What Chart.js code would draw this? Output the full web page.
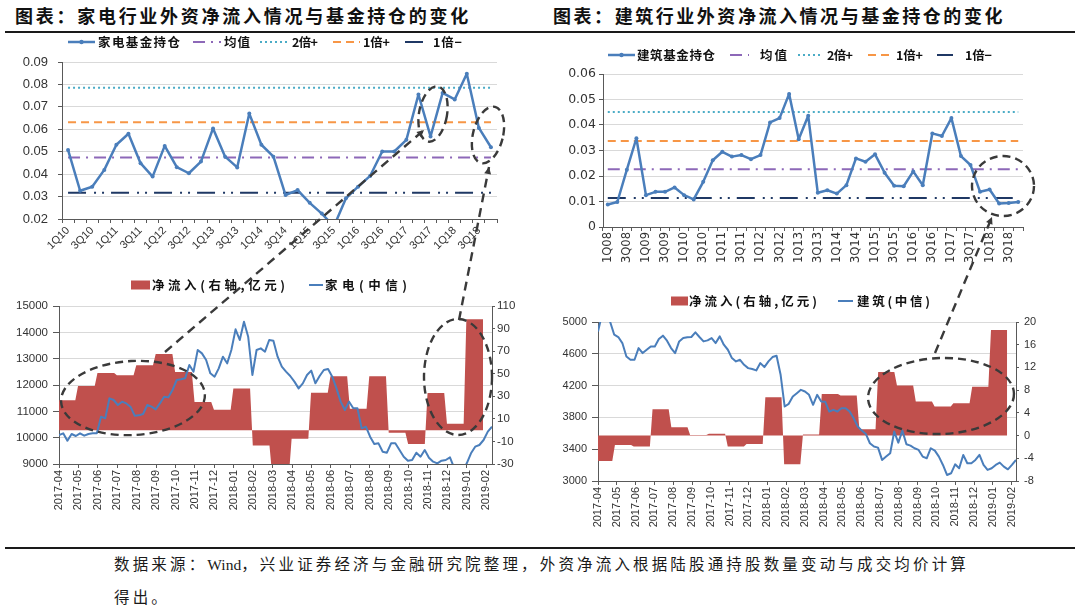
<!DOCTYPE html>
<html>
<head>
<meta charset="utf-8">
<script src="https://cdn.jsdelivr.net/npm/chart.js@4.4.1/dist/chart.umd.min.js"></script>
<style>
  html, body { margin: 0; padding: 0; background: #fff; }
  #page { position: relative; width: 1080px; height: 611px; overflow: hidden; }
  canvas { position: absolute; }
  .title { position: absolute; top: 5px; font: bold 18px "Noto Sans CJK SC", sans-serif; color: #111; white-space: nowrap; line-height: 20px; }
  .rule { position: absolute; left: 5px; width: 1070px; height: 2px; background: #1a1a1a; }
  .foot { position: absolute; left: 114px; font: 15.5px "Liberation Serif", "Noto Sans CJK SC", serif; color: #1a1a1a; white-space: nowrap; line-height: 18px; }
  .lat { letter-spacing: 0; }
  svg { position: absolute; left: 0; top: 0; pointer-events: none; }
</style>
</head>
<body>
<div id="page">
  <div class="title" id="t1" style="left:15px">图表：家电行业外资净流入情况与基金持仓的变化</div>
  <div class="title" id="t2" style="left:553px">图表：建筑行业外资净流入情况与基金持仓的变化</div>
  <div class="rule" style="top:31px"></div>

  <canvas id="c1" width="540" height="236" style="left:0;top:34px"></canvas>
  <canvas id="c2" width="540" height="236" style="left:540px;top:34px"></canvas>
  <canvas id="c3" width="540" height="270" style="left:0;top:270px"></canvas>
  <canvas id="c4" width="540" height="270" style="left:540px;top:270px"></canvas>

  <div class="rule" style="top:547px"></div>
  <div class="foot" id="f1" style="top:556px">数据来源：<span class="lat">Wind</span>，兴业证券经济与金融研究院整理，外资净流入根据陆股通持股数量变动与成交均价计算</div>
  <div class="foot" id="f2" style="top:589px">得出。</div>

  <svg id="marks" width="1080" height="611"></svg>
</div>

<script>
/* ── Data ──────────────────────────────────────────────── */

// Top-left: 家电基金持仓, quarterly
const jdQuarters = [
  "1Q10","2Q10","3Q10","4Q10","1Q11","2Q11","3Q11","4Q11","1Q12","2Q12","3Q12","4Q12",
  "1Q13","2Q13","3Q13","4Q13","1Q14","2Q14","3Q14","4Q14","1Q15","2Q15","3Q15","4Q15",
  "1Q16","2Q16","3Q16","4Q16","1Q17","2Q17","3Q17","4Q17","1Q18","2Q18","3Q18","4Q18",
];
const jdHold = [
  0.0508, 0.0326, 0.0344, 0.0419, 0.0531, 0.0580, 0.0449, 0.0389, 0.0526, 0.0431, 0.0404, 0.0456,
  0.0604, 0.0478, 0.0430, 0.0670, 0.0531, 0.0478, 0.0307, 0.0329, 0.0272, 0.0224, 0.0167, 0.0292,
  0.0344, 0.0392, 0.0501, 0.0501, 0.0553, 0.0755, 0.0568, 0.0762, 0.0733, 0.0848, 0.0606, 0.0520,
];
const jdRefs = [0.0474, 0.0785, 0.0631, 0.0317];   // 均值, 2倍+, 1倍+, 1倍−

// Top-right: 建筑基金持仓, quarterly
const jzQuarters = [
  "1Q08","2Q08","3Q08","4Q08","1Q09","2Q09","3Q09","4Q09","1Q10","2Q10","3Q10","4Q10",
  "1Q11","2Q11","3Q11","4Q11","1Q12","2Q12","3Q12","4Q12","1Q13","2Q13","3Q13","4Q13",
  "1Q14","2Q14","3Q14","4Q14","1Q15","2Q15","3Q15","4Q15","1Q16","2Q16","3Q16","4Q16",
  "1Q17","2Q17","3Q17","4Q17","1Q18","2Q18","3Q18","4Q18",
];
const jzHold = [
  0.0088, 0.0098, 0.0225, 0.0348, 0.0125, 0.0138, 0.0138, 0.0155, 0.0125, 0.0108, 0.0177, 0.0262,
  0.0295, 0.0276, 0.0282, 0.0266, 0.0282, 0.0410, 0.0427, 0.0522, 0.0344, 0.0436, 0.0134, 0.0144,
  0.0131, 0.0164, 0.0269, 0.0256, 0.0285, 0.0213, 0.0162, 0.0160, 0.0218, 0.0164, 0.0367, 0.0357,
  0.0427, 0.0278, 0.0243, 0.0138, 0.0147, 0.0092, 0.0094, 0.0098,
];
const jzRefs = [0.0226, 0.0451, 0.0337, 0.0114];

// Bottom charts: month ticks, monthly net inflow (亿元), weekly index level
const monthLabels = [
  "2017-04","2017-05","2017-06","2017-07","2017-08","2017-09","2017-10","2017-11","2017-12",
  "2018-01","2018-02","2018-03","2018-04","2018-05","2018-06","2018-07","2018-08","2018-09",
  "2018-10","2018-11","2018-12","2019-01","2019-02",
];
const jdFlow = [26.4, 39.2, 50.7, 48.7, 57.6, 67.4, 51.6, 24.9, 18.1, 36.8, -13.5, -40,
                -7.7, 33.2, 47.8, 19.0, 47.8, -2.4, -12.2, 33.0, 5.6, 98.2];
const jzFlow = [-4.47, -1.65, -1.94, 4.65, 1.47, 0.12, 0.30, -1.94, -1.47, 6.76, -5.06, 0.2,
                7.3, 7.06, 1.1, 11.2, 8.8, 6.0, 5.1, 5.7, 8.6, 18.6];

const jdIndex = [
  10101, 10165, 9886, 10139, 10063, 10165, 10076, 10139, 10165, 10165,
  10797, 10734, 11494, 11430, 11240, 11367, 11300, 11177, 10835, 10848,
  10900, 11240, 11177, 11076, 11300, 11557, 11530, 11810, 12190, 12215,
  12253, 12760, 12506, 13330, 13200, 12950, 12443, 12316, 12633, 13076,
  12823, 13330, 14114, 13709, 14405, 13835, 12380, 13330, 13392, 13266,
  13709, 13684, 13076, 12696, 12506, 12341, 12127, 11873, 12063, 12380,
  12544, 12063, 12341, 12570, 12608, 12316, 11873, 11367, 11050, 11367,
  11114, 11114, 10354, 10418, 10038, 9759, 9785, 9468, 9430, 9785,
  9785, 9532, 9278, 9127, 9152, 9430, 9278, 9532, 9240, 9088,
  9025, 9127, 9152, 9253, 8850, 8700, 8750, 9025, 9405, 9658,
  9722, 9911, 10228, 10418,
];
const jzIndex = [
  4880, 5100, 5120, 5000, 4840, 4811, 4735, 4567, 4525, 4525,
  4672, 4609, 4651, 4693, 4693, 4786, 4828, 4765, 4672, 4609,
  4756, 4798, 4807, 4811, 4870, 4811, 4756, 4769, 4798, 4735,
  4819, 4714, 4651, 4546, 4504, 4525, 4462, 4420, 4408, 4391,
  4483, 4433, 4504, 4559, 4575, 4336, 3937, 3971, 4063, 4105,
  4147, 4126, 4084, 3958, 4084, 4000, 3996, 3874, 3895, 3874,
  3916, 3916, 3874, 3790, 3685, 3634, 3592, 3475, 3433, 3420,
  3265, 3307, 3349, 3622, 3483, 3634, 3462, 3445, 3412, 3391,
  3307, 3286, 3412, 3382, 3307, 3202, 3076, 3097, 3210, 3160,
  3328, 3223, 3223, 3265, 3328, 3202, 3139, 3160, 3202, 3231,
  3181, 3147, 3202, 3265,
];

/* ── Styles ────────────────────────────────────────────── */

const BLUE = "#4a7ebb", PURPLE = "#8d68b8", CYAN = "#4bacc6", ORANGE = "#f79646", NAVY = "#1f3864";
const RED = "#c0504d", AXIS = "#595959", GRID = "#d9d9d9", TXT = "#333";
const LEG_FONT = 'bold 12.5px "Noto Sans CJK SC", sans-serif';

Chart.defaults.font.family = '"Liberation Sans", Arial, sans-serif';
Chart.defaults.color = TXT;

/* ── Helpers ───────────────────────────────────────────── */

// Draw text with its letters spread so it spans `target` px
function drawFitted(ctx, text, x, y, target) {
  const chars = [...text];
  const widths = chars.map((c) => ctx.measureText(c).width);
  const total = widths.reduce((a, b) => a + b, 0);
  const gap = chars.length > 1 ? Math.max(-1, (target - total) / (chars.length - 1)) : 0;
  let cx = x;
  chars.forEach((c, i) => { ctx.fillText(c, cx, y); cx += widths[i] + gap; });
}

// Hand-placed legend, styles taken from the datasets
const legendPlugin = {
  id: "customLegend",
  afterDraw(chart, args, opts) {
    const ctx = chart.ctx;
    ctx.save();
    ctx.font = LEG_FONT;
    ctx.textBaseline = "middle";
    for (const it of opts.items) {
      const ds = chart.data.datasets[it.ds];
      const y = opts.y;
      if (it.box) {
        ctx.fillStyle = ds.backgroundColor;
        ctx.fillRect(it.x, y - 4.5, it.w, 9);
      } else {
        ctx.strokeStyle = ds.borderColor;
        ctx.lineWidth = Math.min(ds.borderWidth, 2.5);
        ctx.setLineDash(ds.borderDash || []);
        ctx.beginPath();
        ctx.moveTo(it.x, y);
        ctx.lineTo(it.x + it.w, y);
        ctx.stroke();
        ctx.setLineDash([]);
        if (it.marker) {
          ctx.fillStyle = ds.borderColor;
          ctx.beginPath();
          ctx.arc(it.x + it.w / 2, y, 2.2, 0, Math.PI * 2);
          ctx.fill();
        }
      }
      ctx.fillStyle = "#111";
      drawFitted(ctx, ds.label, it.tx, y + 0.5, it.tw);
    }
    ctx.restore();
  },
};

function refSet(label, value, n, color, dash, width) {
  return {
    label, data: new Array(n).fill(value), borderColor: color, backgroundColor: color,
    borderDash: dash, borderWidth: width, pointRadius: 0, order: 1,
  };
}

// Monthly flows as flat steps on the month axis, short slope between months
function stepPoints(vals, shift, slant) {
  const pts = [];
  vals.forEach((v, m) => {
    pts.push({ x: Math.max(0, m + shift), y: v });
    pts.push({ x: m + 1 + shift - slant, y: v });
  });
  return pts;
}

// Weekly readings spread evenly over the axis span
function weekPoints(vals, xMax) {
  return vals.map((v, i) => ({ x: (i * xMax) / (vals.length - 1), y: v }));
}

function topChart(id, o) {
  const n = o.labels.length;
  return new Chart(document.getElementById(id), {
    type: "line",
    data: {
      labels: o.labels,
      datasets: [
        { label: o.name, data: o.hold, borderColor: BLUE, backgroundColor: BLUE, borderWidth: 2.5,
          pointRadius: 2, pointBorderWidth: 0, borderJoinStyle: "round", order: 0 },
        refSet("均值", o.refs[0], n, PURPLE, [12, 6, 2, 6], 2),
        refSet("2倍+", o.refs[1], n, CYAN, [2, 3], 2),
        refSet("1倍+", o.refs[2], n, ORANGE, [8, 5], 2),
        refSet("1倍−", o.refs[3], n, NAVY, [18, 8, 2, 6, 2, 7], 2),
      ],
    },
    options: {
      responsive: false, animation: false, devicePixelRatio: 1,
      layout: { padding: o.pad },
      plugins: {
        legend: { display: false }, tooltip: { enabled: false },
        customLegend: o.legend,
      },
      scales: {
        x: {
          offset: true,
          grid: { offset: true, drawOnChartArea: false, color: AXIS, tickLength: 4 },
          border: { color: AXIS },
          ticks: {
            autoSkip: false, minRotation: o.rot, maxRotation: o.rot, padding: 1,
            font: o.xFont, color: TXT,
            callback: (v, i) => (i % 2 === 0 ? o.labels[i] : ""),
          },
          afterFit: (s) => { s.height = o.xH; },
        },
        y: {
          min: o.min, max: o.max,
          ticks: { stepSize: 0.01, font: o.yFont, color: TXT, padding: o.yPad,
                   callback: (v) => (v === 0 ? "0" : v.toFixed(2)) },
          grid: { color: GRID, tickColor: AXIS, tickLength: 4 },
          border: { color: AXIS },
          afterFit: (s) => { s.width = o.yW; },
        },
      },
    },
    plugins: [legendPlugin],
  });
}

function bottomChart(id, o) {
  return new Chart(document.getElementById(id), {
    type: "line",
    data: {
      datasets: [
        { label: "净流入(右轴,亿元)", data: stepPoints(o.flow, o.shift, 0.14), yAxisID: "y1",
          fill: { value: 0 }, backgroundColor: RED, borderColor: RED, borderWidth: 0,
          pointRadius: 0, order: 1 },
        { label: o.name, data: weekPoints(o.index, o.xMax), yAxisID: "y",
          borderColor: BLUE, backgroundColor: BLUE, borderWidth: 2, pointRadius: 0,
          borderJoinStyle: "round", order: 0 },
      ],
    },
    options: {
      responsive: false, animation: false, devicePixelRatio: 1,
      layout: { padding: o.pad },
      plugins: {
        legend: { display: false }, tooltip: { enabled: false },
        customLegend: o.legend,
      },
      scales: {
        x: {
          type: "linear", min: 0, max: o.xMax,
          afterBuildTicks: (s) => { s.ticks = monthLabels.map((_, i) => ({ value: i })); },
          ticks: { autoSkip: false, minRotation: 90, maxRotation: 90, padding: 2,
                   font: { size: 11 }, color: TXT,
                   callback: (v) => monthLabels[Math.round(v)] },
          grid: { drawOnChartArea: false, color: AXIS, tickLength: 4 },
          border: { color: AXIS },
          afterFit: (s) => { s.height = o.xH; },
        },
        y: {
          position: "left", min: o.yMin, max: o.yMax,
          ticks: { stepSize: o.yStep, font: { size: o.yFs }, color: TXT, padding: 5,
                   callback: (v) => String(v) },
          grid: { color: GRID, tickColor: AXIS, tickLength: 6 },
          border: { color: AXIS },
          afterFit: (s) => { s.width = o.yW; },
        },
        y1: {
          position: "right", min: o.rMin, max: o.rMax,
          ticks: { stepSize: o.rStep, font: { size: o.yFs }, color: TXT, padding: o.rPad,
                   callback: (v) => String(v) },
          grid: { drawOnChartArea: false, color: AXIS, tickLength: 3 },
          border: { color: AXIS },
          afterFit: (s) => { s.width = o.rW; },
        },
      },
    },
    plugins: [legendPlugin],
  });
}

/* ── Charts ────────────────────────────────────────────── */

topChart("c1", {
  name: "家电基金持仓", labels: jdQuarters, hold: jdHold, refs: jdRefs,
  min: 0.02, max: 0.09, rot: 45, xH: 51, yW: 62, yPad: 10,
  xFont: { size: 11 }, yFont: { size: 13 },
  pad: { left: 0, right: 43, top: 28, bottom: 0 },
  legend: { y: 8, items: [
    { ds: 0, x: 68, w: 27, marker: true, tx: 98, tw: 82 },
    { ds: 1, x: 193, w: 28, tx: 224, tw: 26 },
    { ds: 2, x: 260, w: 28, tx: 292, tw: 26 },
    { ds: 3, x: 333, w: 27, tx: 363, tw: 27 },
    { ds: 4, x: 405, w: 19, tx: 433, tw: 29 },
  ] },
});

topChart("c2", {
  name: "建筑基金持仓", labels: jzQuarters, hold: jzHold, refs: jzRefs,
  min: 0, max: 0.06, rot: 90, xH: 43, yW: 63, yPad: 3,
  xFont: { size: 11.5, family: '"DejaVu Sans", sans-serif' },
  yFont: { size: 12.5, family: '"DejaVu Sans", sans-serif' },
  pad: { left: 0, right: 57, top: 40, bottom: 0 },
  legend: { y: 21, items: [
    { ds: 0, x: 68, w: 27, marker: true, tx: 97, tw: 78 },
    { ds: 1, x: 190, w: 19, tx: 220, tw: 27 },
    { ds: 2, x: 258, w: 22, tx: 287, tw: 26 },
    { ds: 3, x: 328, w: 24, tx: 356, tw: 27 },
    { ds: 4, x: 397, w: 16, tx: 425, tw: 27 },
  ] },
});

bottomChart("c3", {
  name: "家电(中信)", flow: jdFlow, index: jdIndex, shift: -0.02, xMax: 22.3,
  yMin: 9000, yMax: 15000, yStep: 1000, rMin: -30, rMax: 110, rStep: 20,
  yFs: 11.5, yW: 59, rW: 48, rPad: 2, xH: 76,
  pad: { left: 0, right: 0, top: 36, bottom: 0 },
  legend: { y: 15, items: [
    { ds: 0, box: true, x: 131, w: 19, tx: 152, tw: 133 },
    { ds: 1, x: 309, w: 14, tx: 325, tw: 82 },
  ] },
});

bottomChart("c4", {
  name: "建筑(中信)", flow: jzFlow, index: jzIndex, shift: -0.1, xMax: 22.23,
  yMin: 3000, yMax: 5000, yStep: 400, rMin: -8, rMax: 20, rStep: 4,
  yFs: 11, yW: 58, rW: 64, rPad: 5, xH: 59,
  pad: { left: 0, right: 0, top: 52, bottom: 0 },
  legend: { y: 31, items: [
    { ds: 0, box: true, x: 131, w: 17, tx: 149, tw: 128 },
    { ds: 1, x: 298, w: 15, tx: 317, tw: 73 },
  ] },
});

/* ── Callout ellipses and arrows ───────────────────────── */

const NS = "http://www.w3.org/2000/svg";
const svg = document.getElementById("marks");
const MARK = "#3a3a3a";

function el(tag, attrs) {
  const e = document.createElementNS(NS, tag);
  for (const k in attrs) e.setAttribute(k, attrs[k]);
  svg.appendChild(e);
  return e;
}
function ellipse(cx, cy, rx, ry, rot) {
  el("ellipse", { cx, cy, rx, ry, transform: `rotate(${rot} ${cx} ${cy})`,
    fill: "none", stroke: MARK, "stroke-width": 2.4, "stroke-dasharray": "8 5" });
}
function arrow(x1, y1, x2, y2) {
  el("line", { x1, y1, x2, y2, stroke: MARK, "stroke-width": 2.4, "stroke-dasharray": "9 6" });
  const a = Math.atan2(y2 - y1, x2 - x1), L = 7, W = 3.5;
  const bx = x2 - L * Math.cos(a), by = y2 - L * Math.sin(a);
  const px = -Math.sin(a) * W, py = Math.cos(a) * W;
  el("polygon", { points: `${x2},${y2} ${bx + px},${by + py} ${bx - px},${by - py}`, fill: MARK });
}

ellipse(433, 114, 14, 28, 10);
ellipse(488, 135, 15, 29, 14);
ellipse(133, 398, 72, 37, -3);
ellipse(458, 377, 34, 58, 0);
ellipse(1003, 186, 31, 30, 0);
ellipse(941, 396, 73, 38, -2);
arrow(165, 352, 424, 130);
arrow(459, 320, 489, 167);
arrow(935, 353, 992, 217);

/* ── Fit titles and footer to their widths ─────────────── */

// Spread the letters (outside .lat spans) so the line spans `target` px
function fitDiv(id, target) {
  const e = document.getElementById(id);
  const w = e.getBoundingClientRect().width;
  const fixed = [...e.querySelectorAll(".lat")].reduce((s, x) => s + [...x.textContent].length, 0);
  const n = [...e.textContent].length - fixed;
  const sp = (target - w) / n;
  e.style.letterSpacing = sp + "px";
  return sp;
}
fitDiv("t1", 456);
fitDiv("t2", 452);
const footSpacing = fitDiv("f1", 855);
document.getElementById("f2").style.letterSpacing = footSpacing + "px";
</script>
</body>
</html>
